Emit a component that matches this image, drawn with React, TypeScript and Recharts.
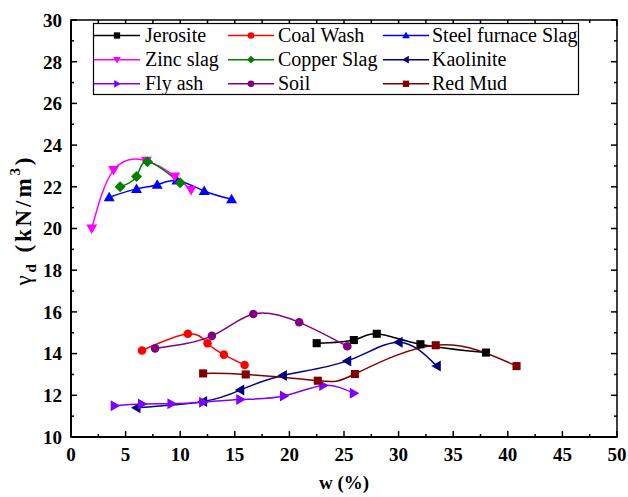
import React from 'react';
import { LineChart, Line, XAxis, YAxis, ReferenceArea, Label } from 'recharts';

// ---------- data ----------
const jerositeX = [22.5, 25.9, 28.0, 32.0, 38.0];
const jerositeY = [14.5, 14.65, 14.95, 14.45, 14.05];

const coalWashX = [6.5, 10.7, 12.5, 14.0, 15.9];
const coalWashY = [14.15, 14.95, 14.5, 13.95, 13.45];

const steelX = [3.5, 6.0, 7.9, 9.7, 12.2, 14.7];
const steelY = [21.5, 21.9, 22.1, 22.3, 21.8, 21.4];

const zincX = [1.9, 3.9, 6.9, 9.5, 11.0];
const zincY = [20.0, 22.8, 23.25, 22.5, 21.85];

const copperX = [4.5, 6.0, 7.0, 10.0];
const copperY = [22.0, 22.5, 23.2, 22.2];

const kaoliniteX = [6.0, 12.1, 15.5, 19.4, 25.3, 30.0, 33.5];
const kaoliniteY = [11.4, 11.7, 12.25, 12.95, 13.65, 14.55, 13.4];

const flyAshX = [4.0, 6.5, 9.2, 12.1, 15.5, 19.5, 23.1, 25.9];
const flyAshY = [11.5, 11.58, 11.6, 11.67, 11.8, 11.97, 12.47, 12.1];

const soilX = [7.7, 12.9, 16.7, 20.9, 25.3];
const soilY = [14.25, 14.85, 15.9, 15.5, 14.35];

const redMudX = [12.1, 16.0, 22.6, 26.0, 33.4, 40.8];
const redMudY = [13.05, 13.0, 12.7, 13.02, 14.4, 13.4];

const xTicks = [0, 2.5, 5, 7.5, 10, 12.5, 15, 17.5, 20, 22.5, 25, 27.5, 30, 32.5, 35, 37.5, 40, 42.5, 45, 47.5, 50];
const yTicks = [10, 11, 12, 13, 14, 15, 16, 17, 18, 19, 20, 21, 22, 23, 24, 25, 26, 27, 28, 29, 30];

// ---------- layout constants ----------
const W = 628;
const H = 497;
const M = { top: 20, right: 11, left: 21, bottom: 0 };
const YW = 50;
const XH = 60;
const PLOT_W = W - M.left - M.right - YW;
const PLOT_H = H - M.top - M.bottom - XH;
const FONT = "'Times New Roman', 'Liberation Serif', serif";

const boldText: React.CSSProperties = { fontFamily: FONT, fontWeight: 700, fontSize: 19, fill: '#000' };

type Kind = 'square' | 'circle' | 'up' | 'down' | 'diamond' | 'left' | 'right';

const pack = (xs: number[], ys: number[]) => xs.map((x, i) => ({ x, y: ys[i] }));

const seriesList: { name: string; color: string; kind: Kind; data: { x: number; y: number }[] }[] = [
  { name: 'Jerosite', color: '#000000', kind: 'square', data: pack(jerositeX, jerositeY) },
  { name: 'Coal Wash', color: '#FF0000', kind: 'circle', data: pack(coalWashX, coalWashY) },
  { name: 'Steel furnace Slag', color: '#0000FF', kind: 'up', data: pack(steelX, steelY) },
  { name: 'Zinc slag', color: '#FF00FF', kind: 'down', data: pack(zincX, zincY) },
  { name: 'Copper Slag', color: '#008000', kind: 'diamond', data: pack(copperX, copperY) },
  { name: 'Kaolinite', color: '#000080', kind: 'left', data: pack(kaoliniteX, kaoliniteY) },
  { name: 'Fly ash', color: '#8000FF', kind: 'right', data: pack(flyAshX, flyAshY) },
  { name: 'Soil', color: '#800080', kind: 'circle', data: pack(soilX, soilY) },
  { name: 'Red Mud', color: '#800000', kind: 'square', data: pack(redMudX, redMudY) },
];

function Marker({ kind, cx, cy, s, color }: { kind: Kind; cx: number; cy: number; s: number; color: string }) {
  const h = s / 2;
  switch (kind) {
    case 'square':
      return <rect x={cx - h * 0.9} y={cy - h * 0.9} width={s * 0.9} height={s * 0.9} fill={color} />;
    case 'circle':
      return <circle cx={cx} cy={cy} r={h * 0.95} fill={color} />;
    case 'up':
      return <polygon points={`${cx},${cy - h * 1.1} ${cx - h * 1.1},${cy + h * 0.8} ${cx + h * 1.1},${cy + h * 0.8}`} fill={color} />;
    case 'down':
      return <polygon points={`${cx},${cy + h * 1.1} ${cx - h * 1.1},${cy - h * 0.8} ${cx + h * 1.1},${cy - h * 0.8}`} fill={color} />;
    case 'left':
      return <polygon points={`${cx - h * 1.1},${cy} ${cx + h * 0.8},${cy - h * 1.1} ${cx + h * 0.8},${cy + h * 1.1}`} fill={color} />;
    case 'right':
      return <polygon points={`${cx + h * 1.1},${cy} ${cx - h * 0.8},${cy - h * 1.1} ${cx - h * 0.8},${cy + h * 1.1}`} fill={color} />;
    case 'diamond':
    default:
      return <polygon points={`${cx},${cy - h * 1.1} ${cx + h * 1.1},${cy} ${cx},${cy + h * 1.1} ${cx - h * 1.1},${cy}`} fill={color} />;
  }
}

const BottomTick = (props: any) => {
  const { x, y, payload } = props;
  const v = payload.value as number;
  const major = Math.abs(v % 5) < 1e-6;
  const len = major ? 6 : 3;
  return (
    <g>
      <line x1={x} y1={y} x2={x} y2={y - len} stroke="#000" strokeWidth={1.5} />
      <line x1={x} y1={y - PLOT_H} x2={x} y2={y - PLOT_H + len} stroke="#000" strokeWidth={1.5} />
      {major && (
        <text x={x} y={y + 24} textAnchor="middle" style={boldText}>
          {v}
        </text>
      )}
    </g>
  );
};

const LeftTick = (props: any) => {
  const { x, y, payload } = props;
  const v = payload.value as number;
  const major = Math.abs(v % 2) < 1e-6;
  const len = major ? 6 : 3;
  return (
    <g>
      <line x1={x} y1={y} x2={x + len} y2={y} stroke="#000" strokeWidth={1.5} />
      <line x1={x + PLOT_W} y1={y} x2={x + PLOT_W - len} y2={y} stroke="#000" strokeWidth={1.5} />
      {major && (
        <text x={x - 9} y={y} dy="0.36em" textAnchor="end" style={boldText}>
          {v}
        </text>
      )}
    </g>
  );
};

const XTitle = (props: any) => {
  const vb = props.viewBox || { x: M.left + YW, y: M.top + PLOT_H, width: PLOT_W, height: XH };
  return (
    <text x={vb.x + vb.width / 2} y={vb.y + 52} textAnchor="middle" style={boldText}>
      w (%)
    </text>
  );
};

const YTitle = (props: any) => {
  const vb = props.viewBox || { x: M.left, y: M.top, width: YW, height: PLOT_H };
  const cx = 31;
  const cy = vb.y + vb.height / 2 - 7;
  return (
    <text
      x={cx}
      y={cy}
      transform={`rotate(-90, ${cx}, ${cy})`}
      textAnchor="middle"
      textLength={128}
      lengthAdjust="spacing"
      style={{ fontFamily: FONT, fontSize: 23, fill: '#000' }}
    >
      <tspan style={{ fontWeight: 400 }}>γ</tspan>
      <tspan style={{ fontWeight: 700, fontSize: 15 }} dy={5}>d</tspan>
      <tspan style={{ fontWeight: 700 }} dy={-5}> (kN/m</tspan>
      <tspan style={{ fontWeight: 700, fontSize: 15 }} dy={-11}>3</tspan>
      <tspan style={{ fontWeight: 700 }} dy={11}>)</tspan>
    </text>
  );
};

const legendCols = [
  { lx: 93, tx: 145 },
  { lx: 227, tx: 278 },
  { lx: 382, tx: 432 },
];
const legendRows = [35.5, 59.7, 83.8];

function LegendBox() {
  return (
    <svg width={W} height={H} style={{ position: 'absolute', left: 0, top: 0, pointerEvents: 'none' }}>
      <rect x={93.5} y={23.5} width={485} height={71} fill="#fff" stroke="#000" strokeWidth={1.2} />
      {seriesList.map((s, i) => {
        const col = legendCols[i % 3];
        const cy = legendRows[Math.floor(i / 3)];
        const x1 = col.lx + 1;
        const x2 = col.lx + 47;
        return (
          <g key={s.name}>
            <line x1={x1} y1={cy} x2={x2} y2={cy} stroke={s.color} strokeWidth={1.5} />
            <Marker kind={s.kind} cx={(x1 + x2) / 2} cy={cy} s={7} color={s.color} />
            <text x={col.tx} y={cy + 6.5} style={{ fontFamily: FONT, fontSize: 20, fill: '#000' }}>
              {s.name}
            </text>
          </g>
        );
      })}
    </svg>
  );
}

export default function App() {
  return (
    <div style={{ position: 'absolute', left: 0, top: 0, width: W, height: H, background: '#fff', fontFamily: FONT }}>
      <LineChart width={W} height={H} margin={M} style={{ fontFamily: FONT }}>
        <XAxis
          xAxisId="b"
          type="number"
          dataKey="x"
          domain={[0, 50]}
          ticks={xTicks}
          interval={0}
          height={XH}
          tickSize={0}
          tickMargin={0}
          tickLine={false}
          tick={<BottomTick />}
          axisLine={{ stroke: '#000', strokeWidth: 2 }}
          allowDataOverflow
        >
          <Label content={<XTitle />} />
        </XAxis>
        <YAxis
          yAxisId="l"
          type="number"
          domain={[10, 30]}
          ticks={yTicks}
          interval={0}
          width={YW}
          tickSize={0}
          tickMargin={0}
          tickLine={false}
          tick={<LeftTick />}
          axisLine={{ stroke: '#000', strokeWidth: 2 }}
          allowDataOverflow
        >
          <Label content={<YTitle />} />
        </YAxis>
        <ReferenceArea
          xAxisId="b"
          yAxisId="l"
          x1={0}
          x2={50}
          y1={10}
          y2={30}
          fill="none"
          fillOpacity={0}
          stroke="#000"
          strokeWidth={1.5}
        />
        {seriesList.map((s) => (
          <Line
            key={s.name}
            xAxisId="b"
            yAxisId="l"
            data={s.data}
            dataKey="y"
            name={s.name}
            type="natural"
            stroke={s.color}
            strokeWidth={1.5}
            isAnimationActive={false}
            dot={(p: any) => (
              <g key={`${s.name}-${p.index}`}>
                <Marker kind={s.kind} cx={p.cx} cy={p.cy} s={s.kind === 'square' || s.kind === 'circle' ? 9 : 10} color={s.color} />
              </g>
            )}
            activeDot={false}
          />
        ))}
      </LineChart>
      <LegendBox />
    </div>
  );
}
